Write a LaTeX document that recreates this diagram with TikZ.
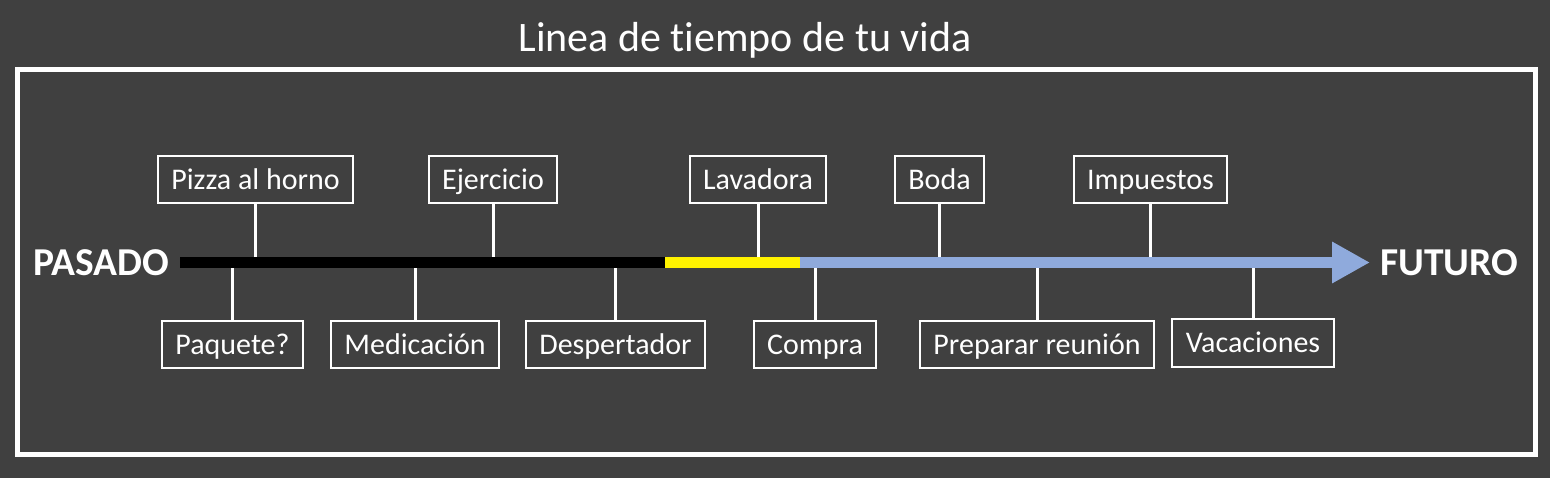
\documentclass[tikz,border=0pt]{standalone}
\usepackage{fontspec}
\setmainfont{Carlito}[Ligatures=NoCommon]
\usetikzlibrary{arrows.meta}
\definecolor{fondo}{HTML}{404040}
\definecolor{azul}{HTML}{8FAADC}

\begin{document}
\begin{tikzpicture}[x=1pt, y=-1pt,
		evento/.style={draw=white, line width=2pt, text=white, minimum height=47pt, inner xsep=13.5pt, text height=24pt, text depth=4.4pt, font=\fontsize{30}{36}\selectfont},
		palo/.style={draw=white, line width=3pt},
		extremo/.style={text=white, font=\bfseries\fontsize{39.5}{46}\selectfont}]
		%%%%% START %%%%%
		
		\fill[fondo] (0, 0) rectangle (1550, 478);
		\useasboundingbox (0, 0) rectangle (1550, 478);
		\draw[line width=5pt, color=white] (17.5, 70) rectangle (1535.5, 454);
		\node[text=white, font=\fontsize{42}{50}\selectfont, anchor=base] (titulo) at (745, 52) {Linea de tiempo de tu vida};
		
		\coordinate (inicio) at (180, 262.5);
		\coordinate (hoy) at (665, 262.5);
		\coordinate (manana) at (800, 262.5);
		\coordinate (punta) at (1370, 262.5);
		
		\node[extremo] (pasado) at (101.5, 262.5) {PASADO};
		\node[extremo] (futuro) at (1449, 262.5) {FUTURO};
		
		\node[evento] (pizza) at (255.5, 179.5) {Pizza al horno};
		\node[evento] (ejercicio) at (493, 179.5) {Ejercicio};
		\node[evento] (lavadora) at (758, 179.5) {Lavadora};
		\node[evento] (boda) at (939.5, 179.5) {Boda};
		\node[evento] (impuestos) at (1150.5, 179.5) {Impuestos};
		
		\node[evento] (paquete) at (232.5, 344.5) {Paquete?};
		\node[evento] (medicacion) at (415, 344.5) {Medicación};
		\node[evento] (despertador) at (615.5, 344.5) {Despertador};
		\node[evento] (compra) at (815, 344.5) {Compra};
		\node[evento] (reunion) at (1037, 344.5) {Preparar reunión};
		\node[evento] (vacaciones) at (1253, 343) {Vacaciones};
		
		\draw[palo] (pizza.south) -- (pizza.south |- inicio);
		\draw[palo] (ejercicio.south) -- (ejercicio.south |- inicio);
		\draw[palo] (lavadora.south) -- (lavadora.south |- inicio);
		\draw[palo] (boda.south) -- (boda.south |- inicio);
		\draw[palo] (impuestos.south) -- (impuestos.south |- inicio);
		\draw[palo] (paquete.north) -- (paquete.north |- inicio);
		\draw[palo] (medicacion.north) -- (medicacion.north |- inicio);
		\draw[palo] (despertador.north) -- (despertador.north |- inicio);
		\draw[palo] (compra.north) -- (compra.north |- inicio);
		\draw[palo] (reunion.north) -- (reunion.north |- inicio);
		\draw[palo] (vacaciones.north) -- (vacaciones.north |- inicio);
		
		\draw[line width=11.5pt, color=black] (inicio) -- (hoy);
		\draw[line width=11.5pt, color=yellow] (hoy) -- (manana);
		\draw[line width=11.5pt, color=azul, -{Triangle[width=39pt, length=38pt]}] (manana) -- (punta);
		
		%%%%% END %%%%%
	\end{tikzpicture}
\end{document}
